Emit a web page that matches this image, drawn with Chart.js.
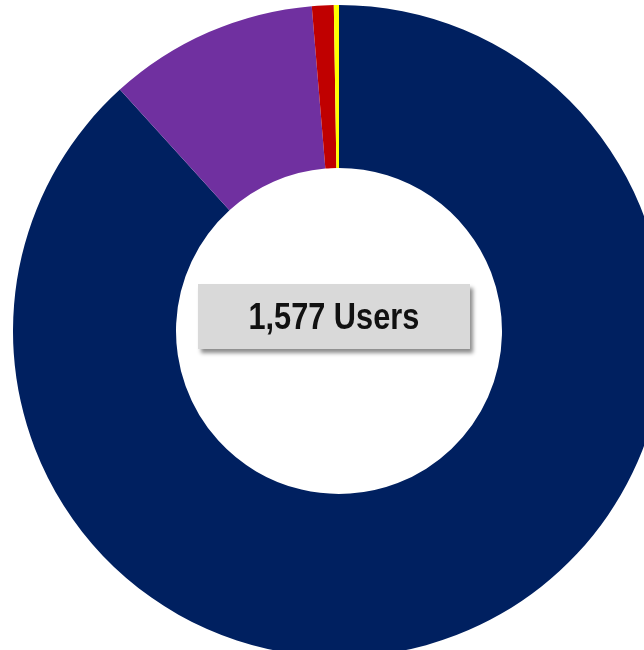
<!DOCTYPE html>
<html>
<head>
<meta charset="utf-8">
<script src="https://cdn.jsdelivr.net/npm/chart.js@4/dist/chart.umd.min.js"></script>
<style>
  html, body { margin: 0; padding: 0; background: #fff; overflow: hidden; width: 644px; height: 650px; }
  #wrap { position: absolute; left: 13px; top: 5px; width: 652px; height: 652px; }
  #total {
    position: absolute; left: 198px; top: 284px; width: 272px; height: 65px;
    background: #d9d9d9; box-shadow: 3px 4px 4px rgba(0,0,0,0.45);
    display: flex; align-items: center; justify-content: center;
  }
  #total span {
    display: inline-block; transform: scaleX(0.83);
    font: bold 37px "Liberation Sans Narrow", "Liberation Sans", Arial, sans-serif;
    color: #111; white-space: nowrap;
  }
</style>
</head>
<body>
<div id="wrap"><canvas id="donut" width="652" height="652"></canvas></div>
<div id="total"><span id="totalText"></span></div>
<script>
// --- data ---
const labels = ["Group A", "Group B", "Group C", "Group D"];
const users = [1392, 164, 17, 4];
const colors = ["#002060", "#7030A0", "#C00000", "#FFFF00"];

const total = users.reduce((a, b) => a + b, 0);
document.getElementById("totalText").textContent = total.toLocaleString("en-US") + " Users";

new Chart(document.getElementById("donut").getContext("2d"), {
  type: "doughnut",
  data: {
    labels: labels,
    datasets: [{
      data: users,
      backgroundColor: colors,
      borderWidth: 0,
    }],
  },
  options: {
    responsive: false,
    animation: false,
    cutout: "50%",
    layout: { padding: 0 },
    plugins: { legend: { display: false }, tooltip: { enabled: false } },
  },
});
</script>
</body>
</html>
